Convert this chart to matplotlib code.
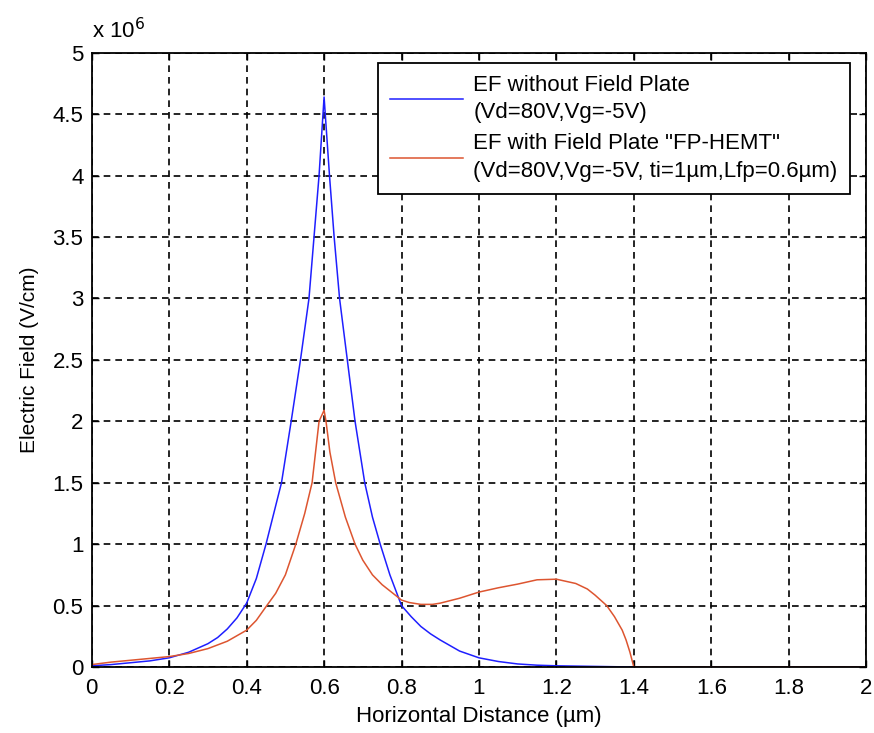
import numpy as np
import matplotlib
matplotlib.use("Agg")
import matplotlib.pyplot as plt

plt.rcParams['font.family'] = ['Liberation Sans', 'DejaVu Sans']

# electric field along the channel, in units of 1e6 V/cm
x_nofp = [0, 0.05, 0.1, 0.15, 0.2, 0.25, 0.3, 0.325, 0.35, 0.375, 0.4, 0.425, 0.45,
          0.47, 0.49, 0.515, 0.539, 0.561, 0.574, 0.587, 0.6, 0.614, 0.626, 0.64,
          0.66, 0.68, 0.705, 0.725, 0.745, 0.77, 0.8, 0.825, 0.85, 0.875, 0.9, 0.95,
          1.0, 1.05, 1.1, 1.15, 1.2, 1.3, 1.4, 2.0]
ef_nofp = [0.01, 0.02, 0.035, 0.05, 0.075, 0.12, 0.19, 0.24, 0.31, 0.40, 0.52, 0.72, 1.0,
           1.25, 1.5, 2.0, 2.5, 3.0, 3.5, 4.0, 4.64, 4.0, 3.5, 3.0,
           2.5, 2.0, 1.5, 1.22, 1.0, 0.75, 0.5, 0.41, 0.33, 0.27, 0.22, 0.13,
           0.075, 0.045, 0.025, 0.015, 0.01, 0.005, 0.0, 0.0]

x_fp = [0, 0.05, 0.1, 0.15, 0.2, 0.25, 0.3, 0.35, 0.4, 0.425, 0.452, 0.475, 0.5, 0.527,
        0.55, 0.569, 0.587, 0.6, 0.605, 0.615, 0.63, 0.655, 0.68, 0.7, 0.725, 0.75,
        0.79, 0.8, 0.82, 0.85, 0.88, 0.9, 0.95, 1.0, 1.05, 1.1, 1.15, 1.2, 1.25, 1.28,
        1.3, 1.33, 1.35, 1.37, 1.38, 1.39, 1.4, 2.0]
ef_fp = [0.02, 0.04, 0.055, 0.07, 0.085, 0.11, 0.15, 0.21, 0.30, 0.38, 0.5, 0.6, 0.75, 1.0,
         1.25, 1.5, 2.0, 2.09, 2.0, 1.75, 1.5, 1.22, 1.0, 0.87, 0.75, 0.67,
         0.57, 0.545, 0.525, 0.51, 0.51, 0.52, 0.56, 0.61, 0.645, 0.675, 0.71, 0.715, 0.68, 0.635,
         0.585, 0.50, 0.41, 0.30, 0.22, 0.12, 0.0, 0.0]

labels = ['EF without Field Plate\n(Vd=80V,Vg=-5V)',
          'EF with Field Plate "FP-HEMT"\n(Vd=80V,Vg=-5V, ti=1\u00b5m,Lfp=0.6\u00b5m)']

fig = plt.figure(figsize=(8.74, 7.33), dpi=100)
ax = fig.add_axes([0.105, 0.09, 0.886, 0.838])

ax.plot(x_nofp, ef_nofp, color='#1f1fff', lw=1.1, label=labels[0])
ax.plot(x_fp, ef_fp, color='#dd5530', lw=1.1, label=labels[1])

ax.set_xlim(0, 2)
ax.set_ylim(0, 5)
ax.set_xticks(np.arange(0, 2.01, 0.2))
ax.set_xticklabels(['0', '0.2', '0.4', '0.6', '0.8', '1', '1.2', '1.4', '1.6', '1.8', '2'])
ax.set_yticks(np.arange(0, 5.01, 0.5))
ax.set_yticklabels(['0', '0.5', '1', '1.5', '2', '2.5', '3', '3.5', '4', '4.5', '5'])
ax.tick_params(direction='in', top=True, right=True, labelsize=16, length=5, width=1)
ax.tick_params(axis='x', pad=8)
ax.tick_params(axis='y', pad=6)
ax.grid(True, color='black', linestyle=(0, (4, 3)), linewidth=1.2)
for s in ax.spines.values():
    s.set_linewidth(1.3)

ax.set_xlabel('Horizontal Distance (\u00b5m)', fontsize=16, labelpad=5)
ax.set_ylabel('Electric Field (V/cm)', fontsize=15, labelpad=10)
ax.text(0.0, 1.015, 'x 10$^6$', transform=ax.transAxes, fontsize=16, ha='left', va='bottom')

leg = ax.legend(loc='upper right', bbox_to_anchor=(0.979, 0.984), borderaxespad=0,
                fontsize=16, fancybox=False, edgecolor='black', framealpha=1,
                handlelength=3.3, handletextpad=0.45, borderpad=0.55, labelspacing=0.45)
for t in leg.get_texts():
    t.set_linespacing(1.4)
leg.get_frame().set_linewidth(1.3)

fig.savefig('out.png', dpi=100)
